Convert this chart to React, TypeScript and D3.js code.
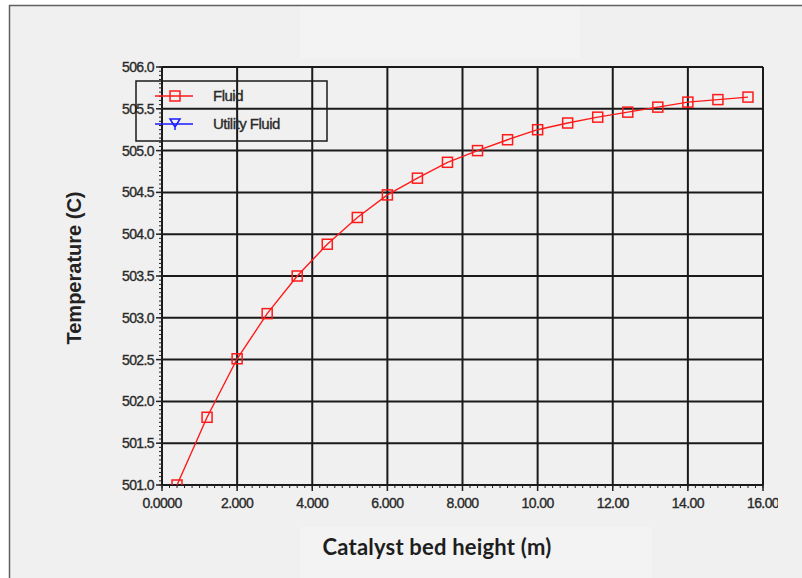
import React from "react";
import * as d3 from "d3";

const xValues = [0.4, 1.2, 2.0, 2.8, 3.6, 4.4, 5.2, 6.0, 6.8, 7.6, 8.4, 9.2, 10.0, 10.8, 11.6, 12.4, 13.2, 14.0, 14.8, 15.6];
const fluidTemps = [501.0, 501.81, 502.51, 503.05, 503.5, 503.88, 504.2, 504.47, 504.67, 504.86, 505.0, 505.13, 505.25, 505.33, 505.4, 505.46, 505.52, 505.58, 505.61, 505.64];
const xTicks = [0, 2, 4, 6, 8, 10, 12, 14, 16];
const xTickLabels = ["0.0000", "2.000", "4.000", "6.000", "8.000", "10.00", "12.00", "14.00", "16.00"];
const yTicks = [501.0, 501.5, 502.0, 502.5, 503.0, 503.5, 504.0, 504.5, 505.0, 505.5, 506.0];
const legendLabels = ["Fluid", "Utility Fluid"];
const xTitle = "Catalyst bed height (m)";
const yTitle = "Temperature (C)";

export default function App() {
  const W = 802, H = 578;
  const L = 162, R = 763, T = 67, B = 485;
  const x = d3.scaleLinear().domain([0, 16]).range([L, R]);
  const y = d3.scaleLinear().domain([501, 506]).range([B, T]);
  const pts = xValues.map((v, i) => [x(v), y(fluidTemps[i])] as [number, number]);
  const line = d3.line()(pts) || "";
  const xMinor = d3.range(0, 16.0001, 0.2);
  const yMinor = d3.range(501, 506.0001, 0.05);
  const tickFont = "'Liberation Sans', Arial, sans-serif";
  const tickColor = "#2a2a2a";

  return (
    <svg width={W} height={H} style={{ position: "absolute", left: 0, top: 0 }}>
      <defs>
        <clipPath id="plotClip">
          <rect x={L} y={T} width={R - L} height={B - T} />
        </clipPath>
        <clipPath id="pageClip">
          <rect x={0} y={0} width={778} height={H} />
        </clipPath>
      </defs>
      <rect x={0} y={0} width={W} height={H} fill="#ffffff" />
      <rect x={9} y={5} width={W - 9} height={H - 5} fill="#f0f0f0" />
      <rect x={300} y={6} width={280} height={52} fill="#f3f3f3" />
      <rect x={300} y={527} width={352} height={51} fill="#f3f3f3" />
      <line x1={9} y1={5.5} x2={W} y2={5.5} stroke="#606060" strokeWidth={1.5} />
      <line x1={9.5} y1={5} x2={9.5} y2={H} stroke="#606060" strokeWidth={1.5} />

      {/* grid */}
      {xTicks.map((t) => (
        <line key={"gx" + t} x1={x(t)} x2={x(t)} y1={T} y2={B} stroke="#1a1a1a" strokeWidth={2} />
      ))}
      {yTicks.map((t) => (
        <line key={"gy" + t} x1={L} x2={R} y1={y(t)} y2={y(t)} stroke="#1a1a1a" strokeWidth={2} />
      ))}

      {/* minor ticks */}
      {xMinor.map((t, i) => (
        <line key={"mx" + i} x1={x(t)} x2={x(t)} y1={B} y2={B + 3} stroke="#222" strokeWidth={1} />
      ))}
      {xTicks.map((t) => (
        <line key={"Mx" + t} x1={x(t)} x2={x(t)} y1={B} y2={B + 6} stroke="#222" strokeWidth={1.5} />
      ))}
      {yMinor.map((t, i) => (
        <line key={"my" + i} x1={L - 3} x2={L} y1={y(t)} y2={y(t)} stroke="#222" strokeWidth={1} />
      ))}
      {yTicks.map((t) => (
        <line key={"My" + t} x1={L - 6} x2={L} y1={y(t)} y2={y(t)} stroke="#222" strokeWidth={1.5} />
      ))}

      {/* tick labels */}
      <g clipPath="url(#pageClip)">
        {xTicks.map((t, i) => (
          <text key={"xl" + t} x={x(t)} y={508} textAnchor="middle" fontFamily={tickFont} fontSize={14} letterSpacing={-0.6} fill={tickColor} stroke={tickColor} strokeWidth={0.35}>
            {xTickLabels[i]}
          </text>
        ))}
      </g>
      {yTicks.map((t) => (
        <text key={"yl" + t} x={154} y={y(t) + 5} textAnchor="end" fontFamily={tickFont} fontSize={14} letterSpacing={-0.6} fill={tickColor} stroke={tickColor} strokeWidth={0.35}>
          {d3.format(".1f")(t)}
        </text>
      ))}

      {/* series */}
      <g clipPath="url(#plotClip)">
        <path d={line} fill="none" stroke="#ff1a1a" strokeWidth={1.4} />
        {pts.map((p, i) => (
          <rect key={"m" + i} x={p[0] - 5} y={p[1] - 5} width={10} height={10} fill="none" stroke="#ff1a1a" strokeWidth={1.5} />
        ))}
      </g>

      {/* legend */}
      <rect x={136} y={81} width={191} height={60} fill="none" stroke="#1a1a1a" strokeWidth={1.5} />
      <line x1={155} x2={193} y1={96} y2={96} stroke="#ff1a1a" strokeWidth={1.4} />
      <rect x={170} y={91} width={10} height={10} fill="none" stroke="#ff1a1a" strokeWidth={1.5} />
      <line x1={155} x2={193} y1={124} y2={124} stroke="#1a1aff" strokeWidth={1.4} />
      <path d="M170,119 L180,119 L175,127 Z M175,127 L175,130" fill="none" stroke="#1a1aff" strokeWidth={1.5} />
      <text x={213} y={101} fontFamily={tickFont} fontSize={15} letterSpacing={-0.5} fill={tickColor} stroke={tickColor} strokeWidth={0.35}>{legendLabels[0]}</text>
      <text x={213} y={129} fontFamily={tickFont} fontSize={15} letterSpacing={-0.5} fill={tickColor} stroke={tickColor} strokeWidth={0.35}>{legendLabels[1]}</text>

      {/* titles */}
      <text x={437} y={555} textAnchor="middle" fontFamily="Lato, 'Open Sans', sans-serif" fontWeight={700} fontSize={22} letterSpacing={0.2} fill="#1e1e1e">
        {xTitle}
      </text>
      <text transform="translate(81,268) rotate(-90)" textAnchor="middle" fontFamily={tickFont} fontWeight={700} fontSize={20} fill="#222">
        {yTitle}
      </text>
    </svg>
  );
}
